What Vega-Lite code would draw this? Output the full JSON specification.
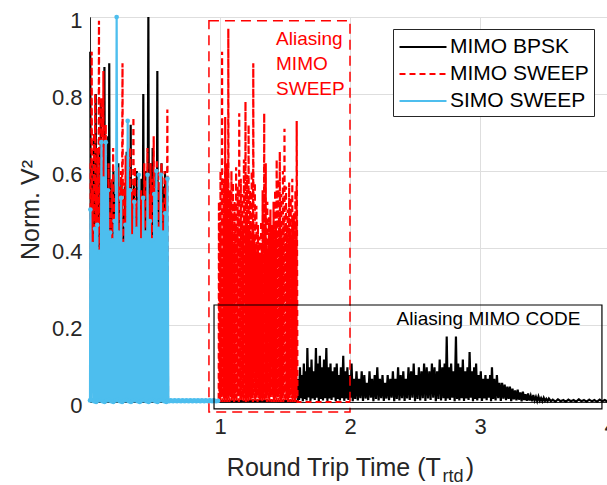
{
"$schema":"https://vega.github.io/schema/vega-lite/v6.json",
"width":520,"height":385,
"autosize":{"type":"none"},
"padding":{"left":90,"top":17,"right":-3,"bottom":83},
"background":"white",
"config":{"font":"Liberation Sans","view":{"stroke":"#262626","strokeWidth":1}},
"datasets":{
"bpsk":[
{"x":0.002,"y":0.91},{"x":0.007,"y":0.20},{"x":0.012,"y":0.63},{"x":0.017,"y":0.08},{"x":0.022,"y":0.55},{"x":0.027,"y":0.30},{"x":0.032,"y":0.68},{"x":0.038,"y":0.12},{"x":0.044,"y":0.80},{"x":0.049,"y":0.05},
{"x":0.054,"y":0.60},{"x":0.059,"y":0.25},{"x":0.064,"y":0.52},{"x":0.069,"y":0.10},{"x":0.074,"y":0.66},{"x":0.079,"y":0.18},{"x":0.083,"y":0.78},{"x":0.088,"y":0.07},{"x":0.093,"y":0.58},{"x":0.098,"y":0.22},
{"x":0.102,"y":0.62},{"x":0.106,"y":0.09},{"x":0.111,"y":0.87},{"x":0.116,"y":0.15},{"x":0.121,"y":0.60},{"x":0.126,"y":0.06},{"x":0.131,"y":0.55},{"x":0.136,"y":0.27},{"x":0.140,"y":0.69},{"x":0.144,"y":0.11},
{"x":0.148,"y":0.88},{"x":0.153,"y":0.04},{"x":0.158,"y":0.57},{"x":0.163,"y":0.19},{"x":0.168,"y":0.50},{"x":0.174,"y":0.08},{"x":0.180,"y":0.60},{"x":0.186,"y":0.24},{"x":0.192,"y":0.54},{"x":0.198,"y":0.10},
{"x":0.204,"y":0.47},{"x":0.211,"y":0.16},{"x":0.218,"y":0.62},{"x":0.224,"y":0.05},{"x":0.230,"y":0.52},{"x":0.236,"y":0.21},{"x":0.242,"y":0.58},{"x":0.249,"y":0.09},{"x":0.256,"y":0.50},{"x":0.262,"y":0.14},
{"x":0.268,"y":0.56},{"x":0.275,"y":0.07},{"x":0.282,"y":0.65},{"x":0.289,"y":0.23},{"x":0.295,"y":0.55},{"x":0.300,"y":0.10},{"x":0.306,"y":0.60},{"x":0.310,"y":0.17},{"x":0.313,"y":0.72},{"x":0.319,"y":0.06},
{"x":0.325,"y":0.54},{"x":0.331,"y":0.20},{"x":0.337,"y":0.58},{"x":0.343,"y":0.08},{"x":0.349,"y":0.50},{"x":0.355,"y":0.15},{"x":0.360,"y":0.60},{"x":0.366,"y":0.05},{"x":0.372,"y":0.55},{"x":0.378,"y":0.22},
{"x":0.384,"y":0.52},{"x":0.390,"y":0.11},{"x":0.396,"y":0.58},{"x":0.403,"y":0.07},{"x":0.410,"y":0.80},{"x":0.415,"y":0.18},{"x":0.420,"y":0.56},{"x":0.426,"y":0.09},{"x":0.432,"y":0.60},{"x":0.440,"y":0.13},
{"x":0.449,"y":1.00},{"x":0.455,"y":0.05},{"x":0.460,"y":0.58},{"x":0.465,"y":0.21},{"x":0.470,"y":0.62},{"x":0.476,"y":0.08},{"x":0.482,"y":0.66},{"x":0.488,"y":0.16},{"x":0.494,"y":0.55},{"x":0.500,"y":0.06},
{"x":0.506,"y":0.60},{"x":0.512,"y":0.19},{"x":0.518,"y":0.86},{"x":0.523,"y":0.10},{"x":0.528,"y":0.57},{"x":0.534,"y":0.14},{"x":0.540,"y":0.54},{"x":0.545,"y":0.07},{"x":0.550,"y":0.62},{"x":0.556,"y":0.22},
{"x":0.562,"y":0.56},{"x":0.570,"y":0.09},{"x":0.577,"y":0.60},{"x":0.584,"y":0.12},{"x":0.590,"y":0.55},{"x":0.598,"y":0.00},
{"x":1.000,"y":0.002},{"x":1.300,"y":0.003},{"x":1.598,"y":0.002},
{"x":1.600,"y":0.06},{"x":1.608,"y":0.005},{"x":1.615,"y":0.09},{"x":1.622,"y":0.010},{"x":1.630,"y":0.07},{"x":1.637,"y":0.002},{"x":1.645,"y":0.10},{"x":1.652,"y":0.008},{"x":1.660,"y":0.08},{"x":1.666,"y":0.004},
{"x":1.672,"y":0.14},{"x":1.680,"y":0.012},{"x":1.688,"y":0.09},{"x":1.696,"y":0.003},{"x":1.704,"y":0.11},{"x":1.712,"y":0.009},{"x":1.720,"y":0.08},{"x":1.729,"y":0.005},{"x":1.738,"y":0.14},{"x":1.745,"y":0.011},
{"x":1.752,"y":0.10},{"x":1.760,"y":0.002},{"x":1.768,"y":0.12},{"x":1.776,"y":0.008},{"x":1.784,"y":0.09},{"x":1.792,"y":0.004},{"x":1.800,"y":0.11},{"x":1.809,"y":0.010},{"x":1.818,"y":0.14},{"x":1.826,"y":0.003},
{"x":1.834,"y":0.09},{"x":1.842,"y":0.009},{"x":1.850,"y":0.10},{"x":1.858,"y":0.005},{"x":1.866,"y":0.08},{"x":1.874,"y":0.012},{"x":1.882,"y":0.09},{"x":1.890,"y":0.002},{"x":1.898,"y":0.10},{"x":1.906,"y":0.008},
{"x":1.914,"y":0.07},{"x":1.922,"y":0.004},{"x":1.930,"y":0.09},{"x":1.939,"y":0.010},{"x":1.948,"y":0.12},{"x":1.956,"y":0.003},{"x":1.964,"y":0.08},{"x":1.972,"y":0.009},{"x":1.980,"y":0.09},{"x":1.988,"y":0.005},
{"x":1.996,"y":0.07},{"x":2.004,"y":0.011},{"x":2.012,"y":0.10},{"x":2.021,"y":0.002},{"x":2.030,"y":0.06},{"x":2.040,"y":0.008},{"x":2.050,"y":0.08},{"x":2.060,"y":0.004},{"x":2.070,"y":0.06},{"x":2.080,"y":0.010},
{"x":2.090,"y":0.08},{"x":2.100,"y":0.003},{"x":2.110,"y":0.07},{"x":2.120,"y":0.009},{"x":2.130,"y":0.05},{"x":2.140,"y":0.005},{"x":2.150,"y":0.08},{"x":2.160,"y":0.011},{"x":2.170,"y":0.06},{"x":2.180,"y":0.002},
{"x":2.190,"y":0.07},{"x":2.200,"y":0.008},{"x":2.210,"y":0.09},{"x":2.220,"y":0.004},{"x":2.230,"y":0.06},{"x":2.240,"y":0.010},{"x":2.250,"y":0.07},{"x":2.260,"y":0.003},{"x":2.270,"y":0.05},{"x":2.280,"y":0.009},
{"x":2.290,"y":0.07},{"x":2.300,"y":0.005},{"x":2.310,"y":0.06},{"x":2.320,"y":0.011},{"x":2.330,"y":0.08},{"x":2.340,"y":0.002},{"x":2.350,"y":0.06},{"x":2.360,"y":0.008},{"x":2.370,"y":0.09},{"x":2.380,"y":0.004},
{"x":2.390,"y":0.07},{"x":2.400,"y":0.010},{"x":2.410,"y":0.08},{"x":2.420,"y":0.003},{"x":2.430,"y":0.06},{"x":2.440,"y":0.009},{"x":2.450,"y":0.09},{"x":2.460,"y":0.005},{"x":2.470,"y":0.08},{"x":2.480,"y":0.011},
{"x":2.490,"y":0.10},{"x":2.500,"y":0.002},{"x":2.510,"y":0.07},{"x":2.520,"y":0.008},{"x":2.530,"y":0.09},{"x":2.540,"y":0.004},{"x":2.550,"y":0.08},{"x":2.560,"y":0.010},{"x":2.570,"y":0.10},{"x":2.580,"y":0.003},
{"x":2.590,"y":0.09},{"x":2.600,"y":0.009},{"x":2.610,"y":0.08},{"x":2.620,"y":0.005},{"x":2.630,"y":0.10},{"x":2.640,"y":0.011},{"x":2.650,"y":0.09},{"x":2.660,"y":0.002},{"x":2.670,"y":0.08},{"x":2.680,"y":0.008},
{"x":2.690,"y":0.11},{"x":2.700,"y":0.004},{"x":2.710,"y":0.09},{"x":2.719,"y":0.010},{"x":2.728,"y":0.10},{"x":2.736,"y":0.003},{"x":2.744,"y":0.17},{"x":2.752,"y":0.009},{"x":2.760,"y":0.09},{"x":2.769,"y":0.005},
{"x":2.778,"y":0.10},{"x":2.787,"y":0.011},{"x":2.796,"y":0.08},{"x":2.805,"y":0.002},{"x":2.815,"y":0.17},{"x":2.823,"y":0.008},{"x":2.832,"y":0.10},{"x":2.841,"y":0.004},{"x":2.850,"y":0.09},{"x":2.859,"y":0.010},
{"x":2.868,"y":0.11},{"x":2.877,"y":0.003},{"x":2.886,"y":0.08},{"x":2.895,"y":0.009},{"x":2.904,"y":0.09},{"x":2.912,"y":0.005},{"x":2.920,"y":0.13},{"x":2.929,"y":0.011},{"x":2.938,"y":0.08},{"x":2.946,"y":0.002},
{"x":2.955,"y":0.09},{"x":2.962,"y":0.008},{"x":2.970,"y":0.10},{"x":2.979,"y":0.004},{"x":2.988,"y":0.07},{"x":2.997,"y":0.010},{"x":3.006,"y":0.08},{"x":3.015,"y":0.003},{"x":3.024,"y":0.06},{"x":3.033,"y":0.009},
{"x":3.042,"y":0.07},{"x":3.051,"y":0.005},{"x":3.060,"y":0.06},{"x":3.069,"y":0.011},{"x":3.078,"y":0.07},{"x":3.085,"y":0.002},{"x":3.092,"y":0.09},{"x":3.101,"y":0.008},{"x":3.110,"y":0.06},{"x":3.120,"y":0.004},
{"x":3.130,"y":0.07},{"x":3.140,"y":0.010},{"x":3.150,"y":0.05},{"x":3.160,"y":0.003},{"x":3.170,"y":0.05},{"x":3.180,"y":0.009},{"x":3.190,"y":0.045},{"x":3.200,"y":0.005},{"x":3.210,"y":0.04},{"x":3.220,"y":0.008},
{"x":3.230,"y":0.04},{"x":3.240,"y":0.002},{"x":3.250,"y":0.035},{"x":3.260,"y":0.007},{"x":3.270,"y":0.03},{"x":3.280,"y":0.004},{"x":3.290,"y":0.032},{"x":3.300,"y":0.006},{"x":3.310,"y":0.025},{"x":3.320,"y":0.002},
{"x":3.330,"y":0.027},{"x":3.340,"y":0.005},{"x":3.350,"y":0.02},{"x":3.360,"y":0.003},{"x":3.370,"y":0.022},{"x":3.380,"y":0.004},{"x":3.390,"y":0.016},{"x":3.400,"y":0.002},{"x":3.410,"y":0.018},{"x":3.420,"y":0.004},
{"x":3.430,"y":0.013},{"x":3.440,"y":0.002},{"x":3.450,"y":0.014},{"x":3.460,"y":0.003},{"x":3.470,"y":0.010},{"x":3.480,"y":0.002},{"x":3.490,"y":0.011},{"x":3.500,"y":0.003},{"x":3.510,"y":0.008},{"x":3.520,"y":0.002},
{"x":3.530,"y":0.009},{"x":3.545,"y":0.002},{"x":3.560,"y":0.006},{"x":3.580,"y":0.001},{"x":3.600,"y":0.007},{"x":3.620,"y":0.002},{"x":3.640,"y":0.005},{"x":3.660,"y":0.001},{"x":3.680,"y":0.006},{"x":3.700,"y":0.002},
{"x":3.720,"y":0.005},{"x":3.740,"y":0.001},{"x":3.760,"y":0.007},{"x":3.780,"y":0.002},{"x":3.800,"y":0.005},{"x":3.820,"y":0.001},{"x":3.840,"y":0.006},{"x":3.860,"y":0.002},{"x":3.880,"y":0.005},{"x":3.900,"y":0.001},
{"x":3.920,"y":0.006},{"x":3.940,"y":0.002},{"x":3.960,"y":0.005},{"x":3.980,"y":0.001},{"x":4.000,"y":0.004}
],
"sweep":[
{"x":0.004,"y":0.62},{"x":0.008,"y":0.10},{"x":0.013,"y":0.91},{"x":0.017,"y":0.22},{"x":0.022,"y":0.55},{"x":0.026,"y":0.05},{"x":0.031,"y":0.70},{"x":0.035,"y":0.18},{"x":0.040,"y":0.80},{"x":0.044,"y":0.08},
{"x":0.049,"y":0.58},{"x":0.053,"y":0.25},{"x":0.058,"y":0.66},{"x":0.063,"y":0.12},{"x":0.069,"y":0.99},{"x":0.073,"y":0.06},{"x":0.078,"y":0.62},{"x":0.082,"y":0.20},{"x":0.087,"y":0.79},{"x":0.091,"y":0.09},
{"x":0.096,"y":0.57},{"x":0.099,"y":0.15},{"x":0.103,"y":0.86},{"x":0.107,"y":0.04},{"x":0.112,"y":0.66},{"x":0.116,"y":0.21},{"x":0.121,"y":0.72},{"x":0.126,"y":0.10},{"x":0.132,"y":0.55},{"x":0.137,"y":0.17},
{"x":0.143,"y":0.62},{"x":0.148,"y":0.07},{"x":0.154,"y":0.49},{"x":0.159,"y":0.23},{"x":0.165,"y":0.58},{"x":0.171,"y":0.11},{"x":0.178,"y":0.66},{"x":0.184,"y":0.05},{"x":0.190,"y":0.53},{"x":0.196,"y":0.19},
{"x":0.202,"y":0.40},{"x":0.208,"y":0.08},{"x":0.214,"y":0.61},{"x":0.220,"y":0.14},{"x":0.226,"y":0.56},{"x":0.232,"y":0.06},{"x":0.238,"y":0.60},{"x":0.244,"y":0.22},{"x":0.250,"y":0.88},{"x":0.256,"y":0.09},
{"x":0.262,"y":0.57},{"x":0.268,"y":0.16},{"x":0.274,"y":0.64},{"x":0.280,"y":0.04},{"x":0.286,"y":0.52},{"x":0.292,"y":0.20},{"x":0.298,"y":0.59},{"x":0.304,"y":0.10},{"x":0.310,"y":0.66},{"x":0.316,"y":0.13},
{"x":0.322,"y":0.55},{"x":0.328,"y":0.07},{"x":0.334,"y":0.74},{"x":0.340,"y":0.18},{"x":0.346,"y":0.61},{"x":0.352,"y":0.05},{"x":0.358,"y":0.52},{"x":0.364,"y":0.21},{"x":0.370,"y":0.58},{"x":0.376,"y":0.09},
{"x":0.382,"y":0.49},{"x":0.388,"y":0.15},{"x":0.394,"y":0.55},{"x":0.400,"y":0.06},{"x":0.406,"y":0.53},{"x":0.412,"y":0.19},{"x":0.418,"y":0.62},{"x":0.424,"y":0.11},{"x":0.430,"y":0.58},{"x":0.436,"y":0.04},
{"x":0.442,"y":0.66},{"x":0.448,"y":0.17},{"x":0.454,"y":0.54},{"x":0.460,"y":0.08},{"x":0.466,"y":0.62},{"x":0.472,"y":0.22},{"x":0.478,"y":0.58},{"x":0.484,"y":0.10},{"x":0.490,"y":0.69},{"x":0.496,"y":0.05},
{"x":0.502,"y":0.56},{"x":0.508,"y":0.18},{"x":0.514,"y":0.63},{"x":0.520,"y":0.12},{"x":0.526,"y":0.60},{"x":0.532,"y":0.07},{"x":0.538,"y":0.57},{"x":0.544,"y":0.20},{"x":0.550,"y":0.62},{"x":0.556,"y":0.09},
{"x":0.562,"y":0.52},{"x":0.568,"y":0.14},{"x":0.574,"y":0.60},{"x":0.580,"y":0.06},{"x":0.586,"y":0.58},{"x":0.590,"y":0.16},{"x":0.595,"y":0.76},{"x":0.600,"y":0.00},
{"x":0.990,"y":0.00},
{"x":0.992,"y":0.52},{"x":0.995,"y":0.01},{"x":0.998,"y":0.45},{"x":1.001,"y":0.00},{"x":1.004,"y":0.60},{"x":1.007,"y":0.02},{"x":1.010,"y":0.40},{"x":1.013,"y":0.01},
{"x":1.016,"y":0.91},{"x":1.019,"y":0.00},{"x":1.022,"y":0.48},{"x":1.025,"y":0.02},{"x":1.028,"y":0.58},{"x":1.031,"y":0.01},{"x":1.034,"y":0.44},{"x":1.037,"y":0.00},
{"x":1.040,"y":0.74},{"x":1.043,"y":0.02},{"x":1.046,"y":0.50},{"x":1.049,"y":0.01},{"x":1.052,"y":0.62},{"x":1.055,"y":0.00},{"x":1.058,"y":0.42},{"x":1.061,"y":0.02},
{"x":1.064,"y":0.97},{"x":1.067,"y":0.01},{"x":1.070,"y":0.47},{"x":1.073,"y":0.00},{"x":1.076,"y":0.55},{"x":1.079,"y":0.02},{"x":1.082,"y":0.43},{"x":1.085,"y":0.01},
{"x":1.088,"y":0.60},{"x":1.091,"y":0.00},{"x":1.094,"y":0.49},{"x":1.097,"y":0.02},{"x":1.100,"y":0.57},{"x":1.103,"y":0.01},{"x":1.106,"y":0.41},{"x":1.109,"y":0.00},
{"x":1.112,"y":0.52},{"x":1.115,"y":0.02},{"x":1.118,"y":0.46},{"x":1.121,"y":0.01},{"x":1.124,"y":0.61},{"x":1.127,"y":0.00},{"x":1.130,"y":0.44},{"x":1.133,"y":0.02},
{"x":1.136,"y":0.56},{"x":1.139,"y":0.01},{"x":1.142,"y":0.48},{"x":1.145,"y":0.00},{"x":1.148,"y":0.75},{"x":1.151,"y":0.02},{"x":1.154,"y":0.42},{"x":1.157,"y":0.01},
{"x":1.160,"y":0.58},{"x":1.163,"y":0.00},{"x":1.166,"y":0.47},{"x":1.169,"y":0.02},{"x":1.172,"y":0.54},{"x":1.175,"y":0.01},{"x":1.178,"y":0.45},{"x":1.181,"y":0.00},
{"x":1.184,"y":0.63},{"x":1.187,"y":0.02},{"x":1.190,"y":0.40},{"x":1.193,"y":0.01},{"x":1.196,"y":0.78},{"x":1.199,"y":0.00},{"x":1.202,"y":0.48},{"x":1.205,"y":0.02},
{"x":1.208,"y":0.59},{"x":1.211,"y":0.01},{"x":1.214,"y":0.44},{"x":1.217,"y":0.00},{"x":1.220,"y":0.72},{"x":1.223,"y":0.02},{"x":1.226,"y":0.46},{"x":1.229,"y":0.01},
{"x":1.232,"y":0.55},{"x":1.235,"y":0.00},{"x":1.238,"y":0.42},{"x":1.241,"y":0.02},{"x":1.244,"y":0.60},{"x":1.247,"y":0.01},{"x":1.250,"y":0.47},{"x":1.253,"y":0.00},
{"x":1.256,"y":0.88},{"x":1.259,"y":0.02},{"x":1.262,"y":0.43},{"x":1.265,"y":0.01},{"x":1.268,"y":0.57},{"x":1.271,"y":0.00},{"x":1.274,"y":0.41},{"x":1.277,"y":0.02},
{"x":1.280,"y":0.51},{"x":1.283,"y":0.01},{"x":1.286,"y":0.39},{"x":1.289,"y":0.00},{"x":1.292,"y":0.46},{"x":1.295,"y":0.02},{"x":1.298,"y":0.38},{"x":1.301,"y":0.01},
{"x":1.304,"y":0.43},{"x":1.307,"y":0.00},{"x":1.310,"y":0.37},{"x":1.313,"y":0.02},{"x":1.316,"y":0.47},{"x":1.319,"y":0.01},{"x":1.322,"y":0.40},{"x":1.325,"y":0.00},
{"x":1.328,"y":0.55},{"x":1.331,"y":0.02},{"x":1.334,"y":0.43},{"x":1.337,"y":0.01},{"x":1.340,"y":0.75},{"x":1.343,"y":0.00},{"x":1.346,"y":0.46},{"x":1.349,"y":0.02},
{"x":1.352,"y":0.62},{"x":1.355,"y":0.01},{"x":1.358,"y":0.41},{"x":1.361,"y":0.00},{"x":1.364,"y":0.52},{"x":1.367,"y":0.02},{"x":1.370,"y":0.39},{"x":1.373,"y":0.01},
{"x":1.376,"y":0.48},{"x":1.379,"y":0.00},{"x":1.382,"y":0.42},{"x":1.385,"y":0.02},{"x":1.388,"y":0.50},{"x":1.391,"y":0.01},{"x":1.394,"y":0.40},{"x":1.397,"y":0.00},
{"x":1.400,"y":0.46},{"x":1.403,"y":0.02},{"x":1.406,"y":0.43},{"x":1.409,"y":0.01},{"x":1.412,"y":0.52},{"x":1.415,"y":0.00},{"x":1.418,"y":0.45},{"x":1.421,"y":0.02},
{"x":1.424,"y":0.55},{"x":1.427,"y":0.01},{"x":1.430,"y":0.47},{"x":1.433,"y":0.00},{"x":1.436,"y":0.63},{"x":1.439,"y":0.02},{"x":1.442,"y":0.44},{"x":1.445,"y":0.01},
{"x":1.448,"y":0.58},{"x":1.451,"y":0.00},{"x":1.454,"y":0.48},{"x":1.457,"y":0.02},{"x":1.460,"y":0.65},{"x":1.463,"y":0.01},{"x":1.466,"y":0.45},{"x":1.469,"y":0.00},
{"x":1.472,"y":0.54},{"x":1.475,"y":0.02},{"x":1.478,"y":0.42},{"x":1.481,"y":0.01},{"x":1.484,"y":0.60},{"x":1.487,"y":0.00},{"x":1.490,"y":0.47},{"x":1.493,"y":0.02},
{"x":1.496,"y":0.71},{"x":1.499,"y":0.01},{"x":1.502,"y":0.44},{"x":1.505,"y":0.00},{"x":1.508,"y":0.56},{"x":1.511,"y":0.02},{"x":1.514,"y":0.46},{"x":1.517,"y":0.01},
{"x":1.520,"y":0.50},{"x":1.523,"y":0.00},{"x":1.526,"y":0.41},{"x":1.529,"y":0.02},{"x":1.532,"y":0.57},{"x":1.535,"y":0.01},{"x":1.538,"y":0.45},{"x":1.541,"y":0.00},
{"x":1.544,"y":0.53},{"x":1.547,"y":0.02},{"x":1.550,"y":0.43},{"x":1.553,"y":0.01},{"x":1.556,"y":0.58},{"x":1.559,"y":0.00},{"x":1.562,"y":0.47},{"x":1.565,"y":0.02},
{"x":1.568,"y":0.49},{"x":1.571,"y":0.01},{"x":1.574,"y":0.42},{"x":1.577,"y":0.00},{"x":1.580,"y":0.55},{"x":1.583,"y":0.02},{"x":1.586,"y":0.46},{"x":1.588,"y":0.01},
{"x":1.590,"y":0.73},{"x":1.596,"y":0.00},
{"x":2.000,"y":0.00}
],
"simo":[
{"x":0.000,"y":0.004},{"x":0.003,"y":0.50},{"x":0.012,"y":0.005},{"x":0.021,"y":0.41},{"x":0.030,"y":0.002},{"x":0.039,"y":0.45},{"x":0.047,"y":0.000},{"x":0.056,"y":0.46},{"x":0.064,"y":0.004},
{"x":0.072,"y":0.39},{"x":0.080,"y":0.005},{"x":0.088,"y":0.675},{"x":0.096,"y":0.002},{"x":0.104,"y":0.58},{"x":0.112,"y":0.000},{"x":0.121,"y":0.675},{"x":0.129,"y":0.004},{"x":0.138,"y":0.55},{"x":0.146,"y":0.005},
{"x":0.155,"y":0.44},{"x":0.163,"y":0.002},{"x":0.172,"y":0.42},{"x":0.180,"y":0.000},{"x":0.189,"y":0.47},{"x":0.197,"y":0.004},{"x":0.205,"y":1.00},{"x":0.213,"y":0.005},{"x":0.222,"y":0.44},{"x":0.230,"y":0.002},
{"x":0.239,"y":0.53},{"x":0.247,"y":0.000},{"x":0.256,"y":0.41},{"x":0.264,"y":0.004},{"x":0.273,"y":0.46},{"x":0.281,"y":0.005},{"x":0.290,"y":0.73},{"x":0.298,"y":0.002},{"x":0.307,"y":0.55},{"x":0.315,"y":0.000},
{"x":0.324,"y":0.43},{"x":0.332,"y":0.004},{"x":0.341,"y":0.52},{"x":0.349,"y":0.005},{"x":0.358,"y":0.45},{"x":0.366,"y":0.002},{"x":0.375,"y":0.59},{"x":0.383,"y":0.000},{"x":0.392,"y":0.42},{"x":0.400,"y":0.004},
{"x":0.409,"y":0.53},{"x":0.417,"y":0.005},{"x":0.426,"y":0.44},{"x":0.434,"y":0.002},{"x":0.443,"y":0.59},{"x":0.451,"y":0.000},{"x":0.460,"y":0.47},{"x":0.468,"y":0.004},{"x":0.477,"y":0.42},{"x":0.485,"y":0.005},
{"x":0.494,"y":0.54},{"x":0.502,"y":0.002},{"x":0.511,"y":0.60},{"x":0.519,"y":0.000},{"x":0.528,"y":0.45},{"x":0.536,"y":0.004},{"x":0.545,"y":0.59},{"x":0.553,"y":0.005},{"x":0.562,"y":0.44},{"x":0.570,"y":0.002},
{"x":0.579,"y":0.49},{"x":0.587,"y":0.000},{"x":0.596,"y":0.58},{"x":0.603,"y":0.003},
{"x":0.610,"y":0.002},{"x":0.620,"y":0.004},{"x":0.630,"y":0.003},{"x":0.640,"y":0.002},{"x":0.650,"y":0.004},{"x":0.660,"y":0.003},{"x":0.670,"y":0.002},{"x":0.680,"y":0.004},{"x":0.690,"y":0.003},{"x":0.700,"y":0.002},
{"x":0.710,"y":0.004},{"x":0.720,"y":0.003},{"x":0.730,"y":0.002},{"x":0.740,"y":0.004},{"x":0.750,"y":0.003},{"x":0.760,"y":0.002},{"x":0.770,"y":0.004},{"x":0.780,"y":0.003},{"x":0.790,"y":0.002},{"x":0.800,"y":0.004},
{"x":0.810,"y":0.003},{"x":0.820,"y":0.002},{"x":0.830,"y":0.004},{"x":0.840,"y":0.003},{"x":0.850,"y":0.002},{"x":0.860,"y":0.004},{"x":0.870,"y":0.003},{"x":0.880,"y":0.002},{"x":0.890,"y":0.004},{"x":0.900,"y":0.003},
{"x":0.910,"y":0.002},{"x":0.920,"y":0.004},{"x":0.930,"y":0.003},{"x":0.940,"y":0.002},{"x":0.950,"y":0.004},{"x":0.960,"y":0.003},{"x":0.970,"y":0.002},{"x":0.985,"y":0.003}
]
},
"layer":[
{"data":{"name":"bpsk"},"mark":{"type":"line","strokeWidth":2.2},
"encoding":{
"x":{"field":"x","type":"quantitative","scale":{"domain":[0,4],"nice":false},
"axis":{"orient":"bottom","values":[1,2,3,4],"format":"d","labelFlush":false,"labelFontSize":22,"labelPadding":14,"labelColor":"#262626","ticks":false,"grid":true,"gridColor":"#dedede","domainColor":"#262626","title":"Round Trip Time (T\u2002\u2002)","titleFontSize":25,"titleFontWeight":"normal","titleColor":"#262626","titleX":260,"titleY":73,"titleBaseline":"alphabetic"}},
"y":{"field":"y","type":"quantitative","scale":{"domain":[0,1],"nice":false},
"axis":{"orient":"left","values":[0,0.2,0.4,0.6,0.8,1],"format":"~g","labelFontSize":22,"labelPadding":8,"labelOffset":3,"labelColor":"#262626","ticks":false,"grid":true,"gridColor":"#dedede","domainColor":"#262626","title":"Norm. V\u00b2","titleFontSize":25,"titleFontWeight":"normal","titleColor":"#262626","titleX":-52,"titleY":192.5,"titleBaseline":"alphabetic"}},
"color":{"datum":"MIMO BPSK","scale":{"domain":["MIMO BPSK","MIMO SWEEP","SIMO SWEEP"],"range":["#000000","#ff0000","#4dbeee"]},
"legend":{"title":null,"orient":"none","legendX":303,"legendY":12,"strokeColor":"#262626","fillColor":"#ffffff","padding":5,"symbolType":"M-2,0H2","symbolSize":552,"symbolOffset":12,"symbolStrokeWidth":2,"labelFontSize":21,"labelColor":"#000000","labelOffset":14,"rowPadding":4,"labelLimit":300}},
"strokeDash":{"datum":"MIMO BPSK","scale":{"domain":["MIMO BPSK","MIMO SWEEP","SIMO SWEEP"],"range":[[1,0],[6,4],[1,0]]},
"legend":{"title":null,"orient":"none","legendX":303,"legendY":12,"strokeColor":"#262626","fillColor":"#ffffff","padding":5,"symbolType":"M-2,0H2","symbolSize":552,"symbolOffset":12,"symbolStrokeWidth":2,"labelFontSize":21,"labelColor":"#000000","labelOffset":14,"rowPadding":4,"labelLimit":300}}
}},
{"data":{"name":"sweep"},"mark":{"type":"line","strokeWidth":2.2},
"encoding":{
"x":{"field":"x","type":"quantitative","scale":{"domain":[0,4],"nice":false}},
"y":{"field":"y","type":"quantitative","scale":{"domain":[0,1],"nice":false}},
"color":{"datum":"MIMO SWEEP"},
"strokeDash":{"datum":"MIMO SWEEP"}
}},
{"data":{"name":"simo"},"mark":{"type":"line","strokeWidth":2.2},
"encoding":{
"x":{"field":"x","type":"quantitative","scale":{"domain":[0,4],"nice":false}},
"y":{"field":"y","type":"quantitative","scale":{"domain":[0,1],"nice":false}},
"color":{"datum":"SIMO SWEEP"},
"strokeDash":{"datum":"SIMO SWEEP"}
}},
{"data":{"name":"simo"},"mark":{"type":"point","filled":true,"size":22,"opacity":1,"color":"#4dbeee"},
"encoding":{
"x":{"field":"x","type":"quantitative","scale":{"domain":[0,4],"nice":false}},
"y":{"field":"y","type":"quantitative","scale":{"domain":[0,1],"nice":false}}
}},
{"data":{"values":[{}]},"mark":{"type":"rect","filled":false,"stroke":"#ff0000","strokeWidth":1.5,"strokeDash":[10,6]},
"encoding":{
"x":{"datum":0.915,"type":"quantitative","scale":{"domain":[0,4],"nice":false}},
"x2":{"datum":2.0},
"y":{"datum":0.99,"type":"quantitative","scale":{"domain":[0,1],"nice":false}},
"y2":{"datum":-0.026}
}},
{"data":{"values":[{}]},"mark":{"type":"rect","filled":false,"stroke":"#000000","strokeWidth":1.2},
"encoding":{
"x":{"datum":0.954,"type":"quantitative","scale":{"domain":[0,4],"nice":false}},
"x2":{"datum":3.938},
"y":{"datum":0.252,"type":"quantitative","scale":{"domain":[0,1],"nice":false}},
"y2":{"datum":-0.018}
}},
{"data":{"values":[{}]},"mark":{"type":"text","text":["Aliasing","MIMO","SWEEP"],"align":"left","baseline":"top","fontSize":19,"lineHeight":25,"color":"#ff0000"},
"encoding":{
"x":{"datum":1.431,"type":"quantitative","scale":{"domain":[0,4],"nice":false}},
"y":{"datum":0.965,"type":"quantitative","scale":{"domain":[0,1],"nice":false}}
}},
{"data":{"values":[{}]},"mark":{"type":"text","text":"Aliasing MIMO CODE","align":"center","baseline":"alphabetic","fontSize":19,"color":"#000000"},
"encoding":{
"x":{"datum":3.065,"type":"quantitative","scale":{"domain":[0,4],"nice":false}},
"y":{"datum":0.2,"type":"quantitative","scale":{"domain":[0,1],"nice":false}}
}},
{"data":{"values":[{}]},"mark":{"type":"text","text":"rtd","align":"left","baseline":"alphabetic","fontSize":18,"color":"#262626"},
"encoding":{
"x":{"datum":2.712,"type":"quantitative","scale":{"domain":[0,4],"nice":false}},
"y":{"datum":-0.2078,"type":"quantitative","scale":{"domain":[0,1],"nice":false}}
}}
]
}
